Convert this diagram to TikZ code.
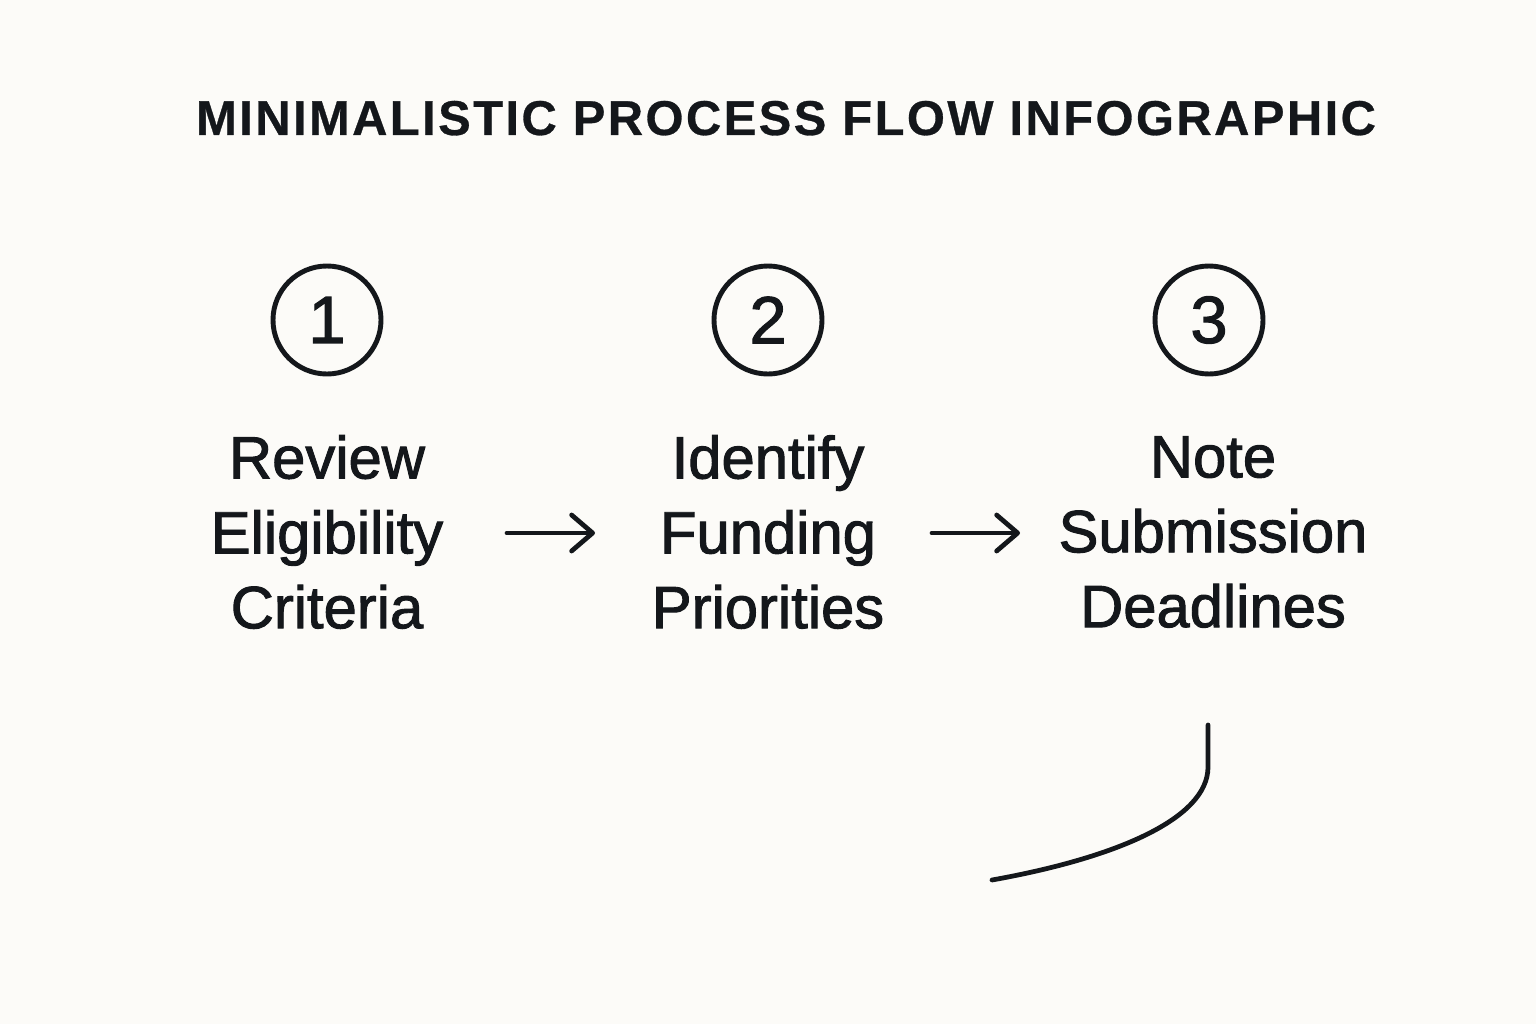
\documentclass[tikz,border=0pt]{standalone}
\usepackage{fontspec}
\setmainfont{Liberation Sans}
\newfontfamily\headfont[LetterSpace=5, FakeBold=0.6]{Liberation Sans Bold}
\newfontfamily\bodyfont[FakeBold=1.6]{Liberation Sans}
\usepackage{xcolor}
\usetikzlibrary{arrows.meta,positioning}

\definecolor{inkdark}{HTML}{14171B}
\definecolor{paper}{HTML}{FCFBF8}

\begin{document}
\begin{tikzpicture}[
    x=1.0cm, y=1.0cm,
    heading/.style={text=inkdark, font=\headfont\fontsize{13.9}{16}\selectfont, inner sep=0pt},
    stepnum/.style={circle, draw=inkdark, line width=1.4pt, minimum size=1.08cm, inner sep=0pt, text=inkdark, font=\bodyfont\fontsize{19}{22}\selectfont},
    steptext/.style={text=inkdark, align=center, inner sep=0pt, font=\bodyfont\fontsize{17}{21.3}\selectfont},
    flow/.style={-{Straight Barb[length=2.1mm, width=3.6mm, round]}, line width=1.35pt, line cap=round, draw=inkdark},
    tail/.style={line width=1.35pt, line cap=round, draw=inkdark}
]

    % Canvas
    \fill[paper] (0,0) rectangle (15.36,10.24);
    \useasboundingbox (0,0) rectangle (15.36,10.24);

    % Title
    \node (title) at (7.86, 8.89) [heading, anchor=base] {MINIMALISTIC PROCESS FLOW INFOGRAPHIC};

    % Numbered circles
    \node (n1) at (3.27, 7.04) [stepnum] {1};
    \node (n2) at (7.68, 7.04) [stepnum] {2};
    \node (n3) at (12.09, 7.04) [stepnum] {3};

    % Step labels
    \node (t1) at (3.27, 4.92) [steptext] {Review\\Eligibility\\Criteria};
    \node (t2) at (7.68, 4.92) [steptext] {Identify\\Funding\\Priorities};
    \node (t3) at (12.13, 4.92) [steptext] {Note\\Submission\\Deadlines};

    % Arrow ends
    \coordinate (a1) at (5.07, 4.91);
    \coordinate (b1) at (5.95, 4.91);
    \coordinate (a2) at (9.32, 4.91);
    \coordinate (b2) at (10.20, 4.91);
    \coordinate (c1) at (12.08, 2.99);
    \coordinate (c2) at (9.92, 1.44);

    % Connectors
    \draw [flow] (a1) -- (b1);
    \draw [flow] (a2) -- (b2);
    \draw [tail] (c1) -- ++(0,-0.42) .. controls (12.08,2.05) and (11.15,1.66) .. (c2);

\end{tikzpicture}
\end{document}
